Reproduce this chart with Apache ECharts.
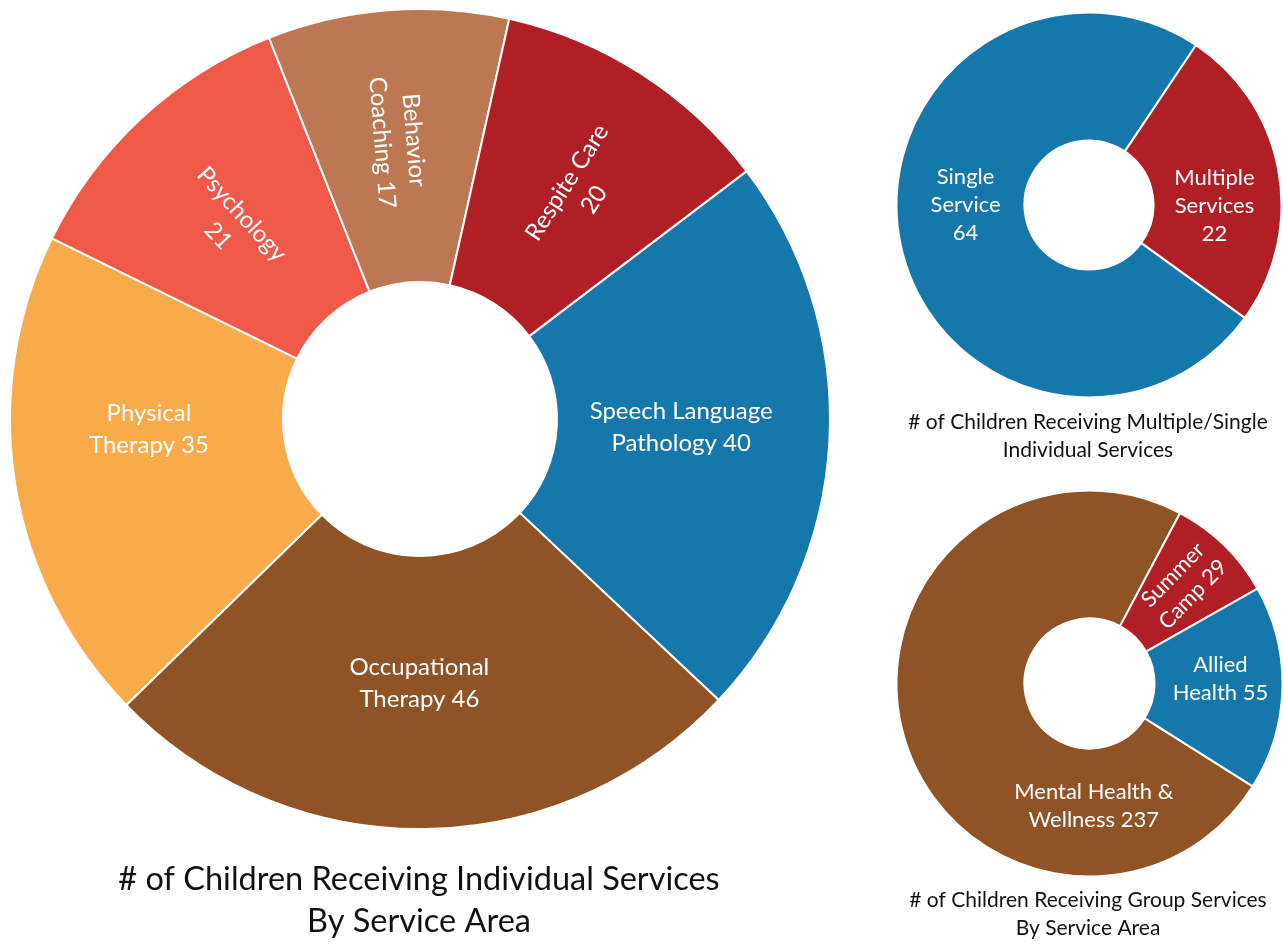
<!DOCTYPE html>
<html>
<head>
<meta charset="utf-8">
<script src="https://cdn.jsdelivr.net/npm/echarts@6/dist/echarts.min.js"></script>
<style>
  html, body { margin: 0; padding: 0; background: #ffffff; }
  #chart { width: 1283px; height: 945px; }
</style>
</head>
<body>
<div id="chart"></div>
<script>
// ---- Data ----
const individualNames = ['Speech Language\nPathology', 'Occupational\nTherapy', 'Physical\nTherapy', 'Psychology', 'Behavior\nCoaching', 'Respite Care'];
const individualValues = [40, 46, 35, 21, 17, 20];
const individualValueSep = [' ', ' ', ' ', '\n', ' ', '\n'];

const multiSingleNames = ['Single\nService', 'Multiple\nServices'];
const multiSingleValues = [64, 22];
const multiSingleValueSep = ['\n', '\n'];

const groupNames = ['Mental Health &\nWellness', 'Summer\nCamp', 'Allied\nHealth'];
const groupValues = [237, 29, 55];
const groupValueSep = [' ', ' ', ' '];

const captionIndividual = '# of Children Receiving Individual Services\nBy Service Area';
const captionMultiSingle = '# of Children Receiving Multiple/Single\nIndividual Services';
const captionGroup = '# of Children Receiving Group Services\nBy Service Area';

// ---- Styles ----
const FONT = 'Lato, "Open Sans", sans-serif';
const C = {
  blue: '#1677ab', brown: '#8f5325', orange: '#f9ab4b',
  coral: '#f05847', tan: '#bd7853', red: '#b01f25'
};
const individualColors = [C.blue, C.brown, C.orange, C.coral, C.tan, C.red];
const individualRotate = [0, 0, 0, 'radial', 'radial', 'radial'];
const multiSingleColors = [C.blue, C.red];
const groupColors = [C.brown, C.red, C.blue];
const groupRotate = [0, 'radial', 0];

function buildData(names, values, seps, colors, rotates) {
  return names.map((n, i) => ({
    name: n,
    value: values[i],
    itemStyle: { color: colors[i] },
    label: {
      formatter: n + seps[i] + values[i],
      rotate: rotates ? rotates[i] : 0
    }
  }));
}

const bigCenter = [420, 419], bigRadius = [137, 410];
const trCenter = [1089, 205], trRadius = [64.5, 192.5];
const brCenter = [1089.5, 683.5], brRadius = [65, 193];

// small label nudges (dx, dy) per slice
const individualNudge = [[-15, -6], [-3, -12], [2, -33], [5, 8], [-2, 0], [2, 12]];
const multiSingleNudge = [[6, -23], [-4, 24]];
const groupNudge = [[0, 0], [4, -2], [-1, -8]];

const baseSeries = {
  type: 'pie',
  clockwise: true,
  avoidLabelOverlap: false,
  silent: true,
  itemStyle: { borderColor: '#ffffff', borderWidth: 2 },
  labelLine: { show: false },
  emphasis: { disabled: true }
};

function nudger(arr) {
  return function (p) {
    const n = arr[p.dataIndex];
    return n ? { dx: n[0], dy: n[1] } : {};
  };
}

const chart = echarts.init(document.getElementById('chart'), null, { renderer: 'canvas' });

// label radius / angle for the group "Mental Health" label placed at bottom
const brLabelR = 122;
const brLabelAngle = 178 * Math.PI / 180;

chart.setOption({
  backgroundColor: '#ffffff',
  animation: false,
  title: [
    {
      text: captionIndividual, left: 419, top: 859, textAlign: 'center', padding: 0,
      textStyle: { fontFamily: FONT, fontSize: 32.5, lineHeight: 42, fontWeight: 'normal', color: '#111' }
    },
    {
      text: captionMultiSingle, left: 1088, top: 408, textAlign: 'center', padding: 0,
      textStyle: { fontFamily: FONT, fontSize: 21, lineHeight: 28, fontWeight: 'normal', color: '#111' }
    },
    {
      text: captionGroup, left: 1088, top: 886, textAlign: 'center', padding: 0,
      textStyle: { fontFamily: FONT, fontSize: 21, lineHeight: 28, fontWeight: 'normal', color: '#111' }
    }
  ],
  series: [
    Object.assign({}, baseSeries, {
      name: 'individual',
      center: bigCenter,
      radius: bigRadius,
      startAngle: 37.2,
      label: {
        show: true, position: 'inside', color: '#ffffff',
        fontFamily: FONT, fontSize: 24, lineHeight: 32, align: 'center'
      },
      labelLayout: nudger(individualNudge),
      data: buildData(individualNames, individualValues, individualValueSep, individualColors, individualRotate)
    }),
    Object.assign({}, baseSeries, {
      name: 'multiSingle',
      center: trCenter,
      radius: trRadius,
      startAngle: -35.9,
      label: {
        show: true, position: 'inside', color: '#ffffff',
        fontFamily: FONT, fontSize: 22, lineHeight: 28, align: 'center'
      },
      labelLayout: nudger(multiSingleNudge),
      data: buildData(multiSingleNames, multiSingleValues, multiSingleValueSep, multiSingleColors, null)
    }),
    Object.assign({}, baseSeries, {
      name: 'group',
      center: brCenter,
      radius: brRadius,
      startAngle: -32.2,
      label: {
        show: true, position: 'inside', color: '#ffffff',
        fontFamily: FONT, fontSize: 22, lineHeight: 28, align: 'center'
      },
      labelLayout: function (p) {
        if (p.dataIndex === 0) {
          return {
            x: brCenter[0] + brLabelR * Math.sin(brLabelAngle),
            y: brCenter[1] - brLabelR * Math.cos(brLabelAngle)
          };
        }
        const n = groupNudge[p.dataIndex];
        return { dx: n[0], dy: n[1] };
      },
      data: buildData(groupNames, groupValues, groupValueSep, groupColors, groupRotate)
    })
  ]
});
</script>
</body>
</html>
